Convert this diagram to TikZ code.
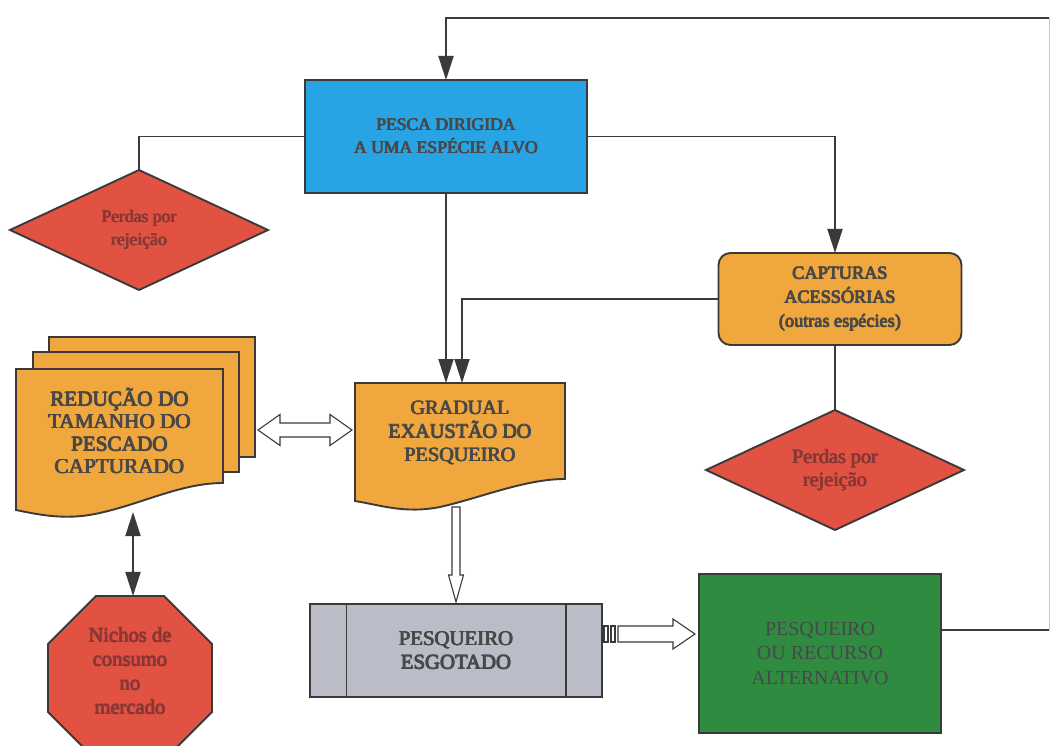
\documentclass[tikz,border=0pt]{standalone}
\usepackage{fontspec}
\setmainfont{Liberation Serif}
\usetikzlibrary{shapes.geometric,arrows.meta,calc}

% heavy lettering: the upright face overprinted with small offsets
\newcommand\heavy[1]{\leavevmode\rlap{\kern0.5pt#1}\rlap{\kern1pt#1}%
  \rlap{\raisebox{0.45pt}{\kern0.5pt#1}}#1\kern1pt}

\definecolor{boxblue}{RGB}{40,164,228}
\definecolor{boxorange}{RGB}{240,167,62}
\definecolor{boxred}{RGB}{226,82,66}
\definecolor{boxgray}{RGB}{186,189,199}
\definecolor{boxgreen}{RGB}{47,139,64}
\definecolor{ink}{RGB}{72,72,72}
\definecolor{redink}{RGB}{135,56,52}
\definecolor{edge}{RGB}{58,58,58}

\begin{document}
\begin{tikzpicture}[x=1pt,y=-1pt,
  every node/.style={inner sep=0pt, outer sep=0pt},
  stroke/.style={draw=edge, line width=1.9pt},
  link/.style={draw=edge, line width=1.9pt},
  tip/.style={-{Triangle[length=24pt,width=15pt]}},
  tips/.style={{Triangle[length=24pt,width=15pt]}-{Triangle[length=24pt,width=15pt]}},
  hollow/.style={draw=edge, line width=1.1pt, fill=white, line join=miter},
  caption/.style={text=ink, align=center},
  redcaption/.style={text=redink, align=center},
  losango/.style={diamond, stroke, fill=boxred, aspect=2.15,
    minimum width=258pt, minimum height=120pt},
]
\useasboundingbox (0,0) rectangle (1053,746);
\clip (0,0) rectangle (1053,746);

% stacked sheets behind the size-reduction label
\path[stroke, fill=boxorange] (49,337) rectangle (255,457);
\path[stroke, fill=boxorange] (33,352) rectangle (239,472);
\path[stroke, fill=boxorange] (16,369) -- (223,369) -- (223,483)
  .. controls (180,483) and (140,505) .. (95,514)
  .. controls (65,520) and (40,515) .. (16,510) -- cycle;

% document shape for the gradual exhaustion step
\path[stroke, fill=boxorange] (355,383) -- (565,383) -- (565,479)
  .. controls (525,479) and (480,498) .. (440,507)
  .. controls (405,514) and (380,505) .. (355,501) -- cycle;

% main boxes
\node[stroke, fill=boxblue, minimum width=282pt, minimum height=113pt,
  caption, font=\fontsize{17.6}{23}\selectfont]
  (pesca) at (446,136.5) {\heavy{PESCA DIRIGIDA}\\\heavy{A UMA ESPÉCIE ALVO}};

\node[losango, redcaption, font=\fontsize{17.6}{23}\selectfont]
  (perdasL) at (139,230) {\heavy{Perdas por}\\\heavy{rejeição}};

\node[stroke, fill=boxorange, rounded corners=12pt, minimum width=243pt,
  minimum height=92pt, caption, font=\fontsize{18.2}{24}\selectfont]
  (capt) at (840,299) {\heavy{CAPTURAS}\\\heavy{ACESSÓRIAS}\\\heavy{(outras espécies)}};

\node[losango, redcaption, font=\fontsize{20.2}{23}\selectfont]
  (perdasR) at (835,470) {\heavy{Perdas por}\\\heavy{rejeição}};

\node[caption, font=\fontsize{21.2}{22.5}\selectfont]
  (reducao) at (119.5,431) {\heavy{REDUÇÃO DO}\\\heavy{TAMANHO DO}\\\heavy{PESCADO}\\\heavy{CAPTURADO}};

\node[caption, font=\fontsize{20.2}{23.5}\selectfont]
  (gradual) at (460,433) {\heavy{GRADUAL}\\\heavy{EXAUSTÃO DO}\\\heavy{PESQUEIRO}};

\node[stroke, fill=boxgray, minimum width=292pt, minimum height=93pt,
  caption, font=\fontsize{20.8}{23.5}\selectfont]
  (esgot) at (456,650.5) {\heavy{PESQUEIRO}\\\heavy{ESGOTADO}};
\draw[link] ($(esgot.north west)+(36.5,0)$) -- ($(esgot.south west)+(36.5,0)$);
\draw[link] ($(esgot.north east)+(-36,0)$) -- ($(esgot.south east)+(-36,0)$);

\node[stroke, fill=boxgreen, minimum width=242pt, minimum height=159pt,
  caption, font=\fontsize{20}{24.5}\selectfont]
  (green) at (820,653.5) {PESQUEIRO\\OU RECURSO\\ALTERNATIVO};

\node[regular polygon, regular polygon sides=8, stroke, fill=boxred,
  minimum size=177.5pt] (nichos) at (130,678) {};
\node[redcaption, font=\fontsize{20.6}{24}\selectfont]
  (nichosTxt) at (130,671) {\heavy{Nichos de}\\\heavy{consumo}\\\heavy{no}\\\heavy{mercado}};

% connector end points on the drawn shapes
\coordinate (gradTop) at (460,383);
\coordinate (redLow) at (133,512);
\coordinate (loopB) at (1049,630);
\coordinate (loopT) at (1049,18);
\coordinate (dblL) at (258,430);
\coordinate (dblR) at (352,430);
\coordinate (downTop) at (456,507);
\coordinate (downTip) at (456,602);
\coordinate (rightTail) at (618,634);
\coordinate (rightTip) at (695,634);

% connectors
\draw[link] (pesca.west) -| (perdasL.north);
\draw[link,tip] (pesca.east) -| ($(capt.north)+(-5,0)$);
\draw[link,tip] (pesca.south) -- (pesca.south |- gradTop);
\draw[link,tip] (capt.west) -| ($(gradTop)+(2,0)$);
\draw[link] ($(capt.south)+(-5,0)$) -- (perdasR.north);
\draw[link,tips] (redLow) -- (redLow |- nichos.north);

% feedback loop from the alternative resource back to the targeted fishery
\draw[link] (green.east |- loopB) -- (loopB);
\draw[draw=gray!45, line width=0.7pt] (loopB) -- (loopT);
\draw[link,tip] (loopT) -| (pesca.north);

% hollow block arrows
\path[hollow] (dblL) -- ++(22,-15.5) -- ++(0,8.5) -- ($(dblR)+(-22,-7)$)
  -- ++(0,-8.5) -- (dblR) -- ++(-22,15.5) -- ++(0,-8.5)
  -- ($(dblL)+(22,7)$) -- ++(0,8.5) -- cycle;

\path[hollow] ($(downTop)+(-4,0)$) -- ($(downTop)+(4,0)$)
  -- ($(downTip)+(4,-27)$) -- ++(3.5,0) -- (downTip)
  -- ($(downTip)+(-7.5,-27)$) -- ++(3.5,0) -- cycle;

\path[hollow] ($(rightTail)+(0,-8)$) -- ($(rightTip)+(-22,-8)$) -- ++(0,-7)
  -- (rightTip) -- ($(rightTip)+(-22,15)$) -- ++(0,-7)
  -- ($(rightTail)+(0,8)$) -- cycle;
\path[hollow] ($(rightTail)+(-14,-8)$) rectangle ++(4,16);
\path[hollow] ($(rightTail)+(-7,-8)$) rectangle ++(4,16);
\end{tikzpicture}
\end{document}
